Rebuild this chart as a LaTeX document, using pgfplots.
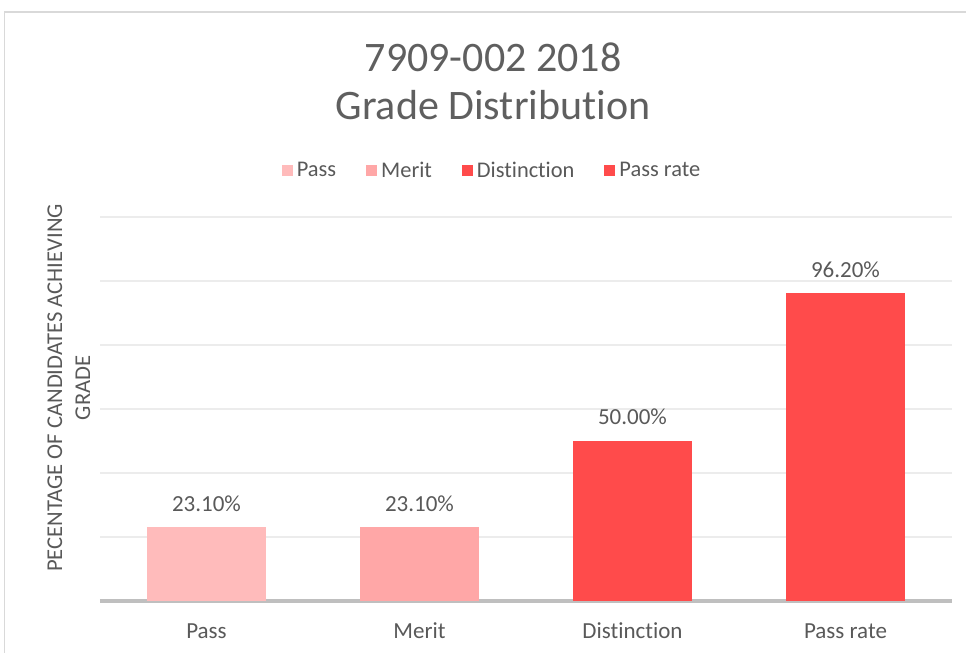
\documentclass[border=0pt]{standalone}
\usepackage{fontspec}
\setmainfont{Carlito}[Ligatures=NoCommon]
\usepackage{pgfplots}
\pgfplotsset{compat=1.18}
\definecolor{txt}{RGB}{89,89,89}
\definecolor{ttl}{RGB}{95,95,95}
\definecolor{cpass}{RGB}{255,187,187}
\definecolor{cmerit}{RGB}{255,167,167}
\definecolor{cdist}{RGB}{255,75,75}
\definecolor{gridc}{RGB}{236,236,236}
\definecolor{basec}{RGB}{191,191,191}
\definecolor{framec}{RGB}{217,217,217}
\pgfplotsset{sqleg/.style={legend image code/.code={\fill[##1,draw=none] (0pt,-2.75pt) rectangle (5.5pt,2.75pt);}}}
\begin{document}
\begin{tikzpicture}
\useasboundingbox (0,0) rectangle (483pt,326.5pt);
\draw[framec,line width=0.6pt] (2.2pt,-5pt) -- (2.2pt,320.5pt) -- (495pt,320.5pt);
\begin{axis}[
  at={(50pt,26pt)}, anchor=south west,
  scale only axis, width=426pt, height=192pt,
  xmin=-0.5, xmax=3.5, ymin=0, ymax=120,
  ybar, bar width=59.5pt, bar shift=0pt,
  separate axis lines,
  axis x line*=bottom, axis y line*=left,
  x axis line style={basec, line width=1.7pt, -},
  y axis line style={draw=none},
  tick style={draw=none},
  xtick={0,1,2,3},
  xticklabels={Pass,Merit,Distinction,Pass rate},
  xticklabel style={font=\fontsize{11.5}{13}\selectfont, text=txt, anchor=base, yshift=-14.6pt},
  ytick={20,40,60,80,100,120},
  yticklabels={},
  ymajorgrids, major grid style={gridc, line width=0.6pt},
  ylabel={PECENTAGE OF CANDIDATES ACHIEVING\\GRADE},
  ylabel style={at={(axis description cs:-0.0364,0.555)}, anchor=center, align=center,
    font=\fontsize{11.3}{14}\selectfont, text=txt},
  title={7909-002 2018\\Grade Distribution},
  title style={at={(axis description cs:0.4613,1.323)}, anchor=center, align=center,
    font=\fontsize{21}{24}\selectfont, text=ttl},
  legend style={at={(axis description cs:0.4613,1.12)}, anchor=center, draw=none,
    legend columns=4, font=\fontsize{11.2}{13}\selectfont, text=txt,
    /tikz/every even column/.append style={column sep=13pt}},
  point meta=y,
  nodes near coords={\pgfmathprintnumber[fixed,fixed zerofill,precision=2]{\pgfplotspointmeta}\%},
  nodes near coords style={font=\fontsize{11.5}{13}\selectfont, text=txt, anchor=base, inner sep=0pt, yshift=8pt},
  /pgf/number format/assume math mode=true,
]
\addplot[fill=cpass, draw=none, sqleg] coordinates {(0,23.1)};
\addlegendentry{Pass}
\addplot[fill=cmerit, draw=none, sqleg] coordinates {(1,23.1)};
\addlegendentry{Merit}
\addplot[fill=cdist, draw=none, sqleg] coordinates {(2,50.0)};
\addlegendentry{Distinction}
\addplot[fill=cdist, draw=none, sqleg] coordinates {(3,96.2)};
\addlegendentry{Pass rate}
\end{axis}
\end{tikzpicture}
\end{document}
